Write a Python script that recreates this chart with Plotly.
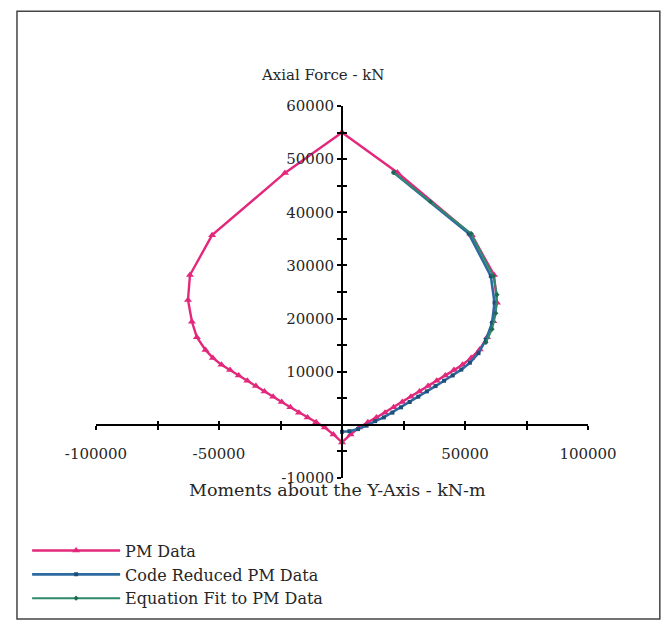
import plotly.graph_objects as go

# PM interaction data (moment in kN-m, axial force in kN)
pm_moment = [0, 22500, 52800, 61800, 63000, 61500, 59000, 56000, 52500, 49000,
             45500, 42000, 38500, 35000, 31500, 28000, 24500, 21000, 17500, 14000,
             10500, 7000, 3500, 0,
             -3500, -7000, -10500, -14000, -17500, -21000, -24500, -28000, -31500,
             -35000, -38500, -42000, -45500, -49000, -52500, -55500, -59000, -61000,
             -62600, -61800, -52800, -23200, 0]
pm_axial = [55000, 47500, 35700, 28200, 23000, 19500, 16500, 14200, 12600, 11300,
            10300, 9300, 8300, 7300, 6300, 5300, 4300, 3300, 2300, 1400,
            500, -500, -1800, -3300,
            -1800, -500, 500, 1400, 2300, 3300, 4300, 5300, 6300,
            7300, 8300, 9300, 10300, 11300, 12600, 14100, 16500, 19400,
            23500, 28200, 35700, 47400, 55000]

# Code reduced PM data
cr_moment = [21000, 51500, 60500, 62000, 61000, 58500, 55500, 52000, 48500, 45000,
             41500, 38000, 34500, 31000, 27500, 24000, 20500, 17000, 13500, 10000,
             6500, 3000, 0]
cr_axial = [47500, 36000, 28000, 23000, 19200, 16000, 13500, 11700, 10400, 9300,
            8300, 7300, 6300, 5300, 4300, 3300, 2300, 1400, 700, -150,
            -800, -1200, -1300]

# Equation fit to PM data
eq_moment = [21000, 36000, 52500, 61500, 63000, 62500, 61000, 58500]
eq_axial = [47500, 42000, 36000, 28000, 24500, 21000, 18000, 15500]

# Axis ticks
x_tickvals = [-100000, -75000, -50000, -25000, 0, 25000, 50000, 75000, 100000]
x_ticktext = ["-100000", "", "-50000", "", "", "", "50000", "", "100000"]
y_tickvals = list(range(-10000, 60001, 5000))
y_ticktext = [("" if (v % 10000 or v == 0) else str(v)) for v in y_tickvals]

PINK = "#e3287c"
BLUE = "#2d6aa0"
GREEN = "#2f8a6c"
SERIF = "DejaVu Serif"
INK = "#262626"

fig = go.Figure()
fig.add_trace(go.Scatter(
    x=pm_moment, y=pm_axial, mode="lines+markers", name="PM Data",
    line=dict(color=PINK, width=2.4),
    marker=dict(symbol="triangle-up", size=7, color=PINK)))
fig.add_trace(go.Scatter(
    x=cr_moment, y=cr_axial, mode="lines+markers", name="Code Reduced PM Data",
    line=dict(color=BLUE, width=2.6),
    marker=dict(symbol="square", size=4, color="#1f4f78")))
fig.add_trace(go.Scatter(
    x=eq_moment, y=eq_axial, mode="lines+markers", name="Equation Fit to PM Data",
    line=dict(color=GREEN, width=2),
    marker=dict(symbol="diamond", size=4, color="#1f6a55")))

x_range = [-100000, 100000]
y_range = [-10000, 60000]
x_axis_pos = (0 - y_range[0]) / (y_range[1] - y_range[0])

axis_font = dict(family=SERIF, size=15, color=INK)

fig.update_layout(
    width=666, height=623,
    margin=dict(l=96, r=78, t=106, b=145, autoexpand=False),
    paper_bgcolor="white", plot_bgcolor="white",
    xaxis=dict(range=x_range, anchor="free", position=x_axis_pos,
               automargin=False,
               showline=True, linecolor="black", linewidth=2,
               ticks="outside", ticklen=4, tickwidth=1.8, tickcolor="black",
               tickvals=x_tickvals, ticktext=x_ticktext, tickfont=axis_font,
               ticklabelstandoff=11,
               showgrid=False, zeroline=False),
    xaxis2=dict(range=x_range, overlaying="x", anchor="free", position=x_axis_pos,
                automargin=False,
                showline=False, ticks="inside", ticklen=4, tickwidth=1.8,
                tickcolor="black", tickvals=x_tickvals, showticklabels=False,
                showgrid=False, zeroline=False),
    yaxis=dict(range=y_range, anchor="free", position=0.5,
               automargin=False,
               showline=True, linecolor="black", linewidth=2,
               ticks="outside", ticklen=4, tickwidth=1.8, tickcolor="black",
               tickvals=y_tickvals, ticktext=y_ticktext, tickfont=axis_font,
               ticklabelstandoff=0,
               showgrid=False, zeroline=False),
    yaxis2=dict(range=y_range, overlaying="y", anchor="free", position=0.5,
                automargin=False,
                showline=False, ticks="inside", ticklen=4, tickwidth=1.8,
                tickcolor="black", tickvals=y_tickvals, showticklabels=False,
                showgrid=False, zeroline=False),
    legend=dict(x=-0.140, y=-0.370, xanchor="left", yanchor="bottom",
                font=dict(family=SERIF, size=16, color=INK),
                itemwidth=88, tracegroupgap=0, borderwidth=0,
                bgcolor="rgba(0,0,0,0)"),
    shapes=[dict(type="rect", xref="paper", yref="paper",
                 x0=-0.1606, x1=1.146, y0=-0.379, y1=1.255,
                 line=dict(color="#444", width=1.5), layer="below")],
    annotations=[
        dict(text="Axial Force - kN", xref="paper", yref="paper",
             x=0.46, y=1.083, yanchor="middle", showarrow=False,
             font=dict(family=SERIF, size=15, color=INK)),
        dict(text="Moments about the Y-Axis - kN-m", xref="paper", yref="paper",
             x=0.491, y=-0.032, yanchor="middle", showarrow=False,
             font=dict(family=SERIF, size=17.5, color=INK)),
    ],
)

# Invisible helper so the secondary tick axes are drawn
fig.add_trace(go.Scatter(x=[None], y=[None], xaxis="x2", yaxis="y2",
                         showlegend=False, hoverinfo="skip"))

fig.write_html("out.html")
